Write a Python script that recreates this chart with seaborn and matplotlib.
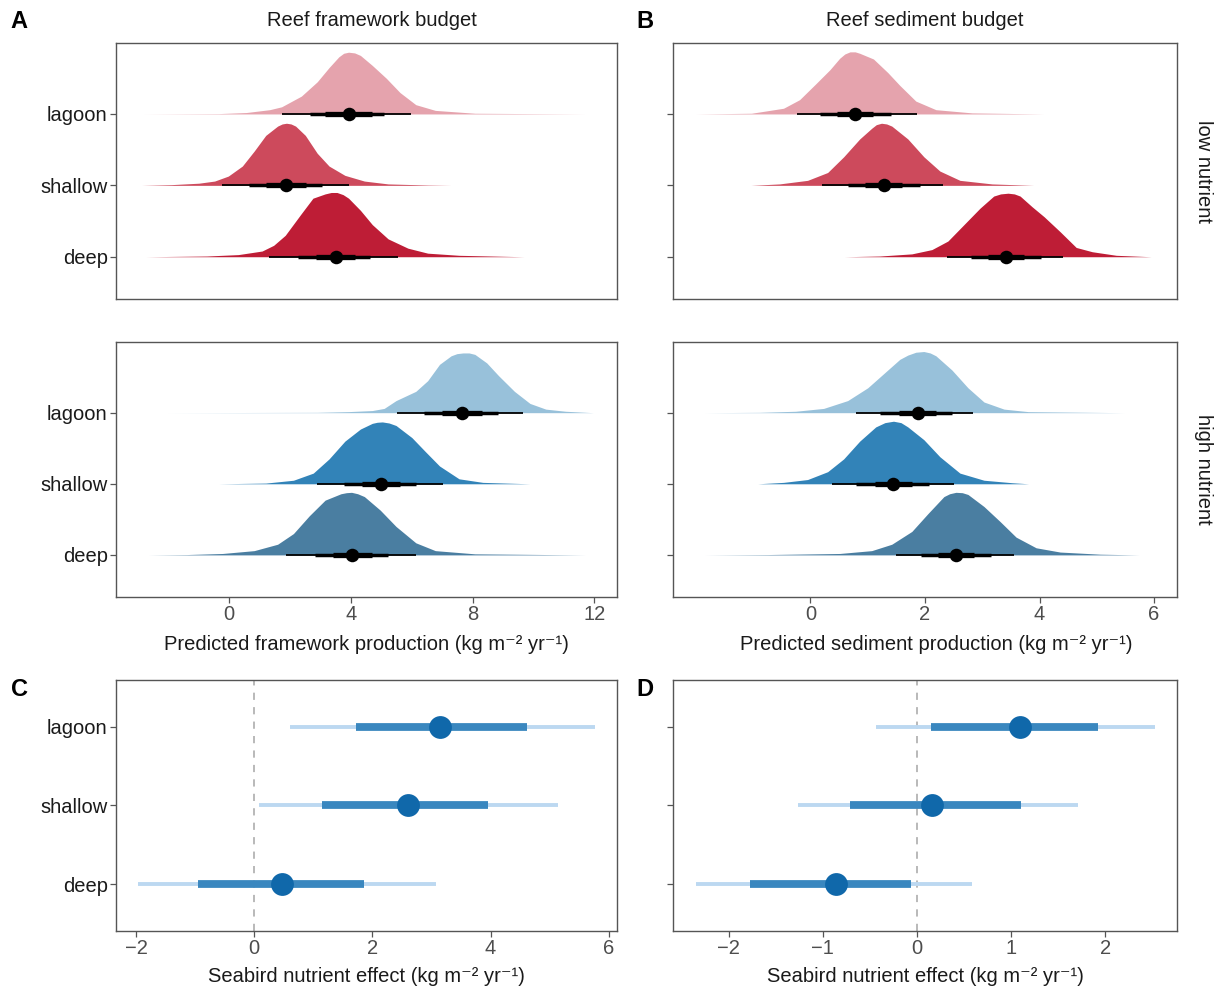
import matplotlib
matplotlib.use("Agg")
import matplotlib.pyplot as plt
import seaborn as sns
import pandas as pd

# ---------------- data ----------------
sites = ["deep", "shallow", "lagoon"]          # y positions 1, 2, 3

# density outlines (x in kg m-2 yr-1, h = height in row units)
fw_low_lagoon_x = [-2.84, -0.35, 0.56, 1.33, 1.72, 2.37, 2.89, 3.28, 3.60, 3.76, 3.92, 4.12, 4.31, 4.70, 5.16, 5.61, 6.13, 6.77, 8.07, 11.70]
fw_low_lagoon_h = [0.0, 0.005, 0.02, 0.06, 0.10, 0.25, 0.45, 0.65, 0.80, 0.85, 0.865, 0.855, 0.82, 0.68, 0.50, 0.30, 0.13, 0.05, 0.01, 0.0]
fw_low_shallow_x = [-2.88, -1.90, -1.00, -0.48, -0.03, 0.43, 0.82, 1.20, 1.59, 1.74, 1.88, 2.03, 2.18, 2.50, 2.89, 3.28, 3.80, 4.44, 5.22, 6.52, 7.29]
fw_low_shallow_h = [0.0, 0.01, 0.03, 0.06, 0.13, 0.27, 0.48, 0.70, 0.83, 0.86, 0.87, 0.86, 0.83, 0.70, 0.45, 0.27, 0.14, 0.06, 0.02, 0.005, 0.0]
fw_low_deep_x = [-2.75, -0.74, 0.30, 1.08, 1.46, 1.84, 2.36, 2.75, 3.15, 3.35, 3.54, 3.74, 3.92, 4.31, 4.70, 5.22, 5.87, 6.52, 7.55, 9.69]
fw_low_deep_h = [0.0, 0.01, 0.03, 0.08, 0.16, 0.30, 0.60, 0.82, 0.88, 0.90, 0.90, 0.87, 0.82, 0.65, 0.45, 0.25, 0.12, 0.05, 0.02, 0.0]

fw_high_lagoon_x = [-2.03, 2.89, 3.92, 4.70, 5.09, 5.48, 6.13, 6.52, 6.91, 7.29, 7.48, 7.68, 7.88, 8.07, 8.46, 8.85, 9.37, 9.88, 10.40, 11.05, 11.96]
fw_high_lagoon_h = [0.0, 0.005, 0.015, 0.03, 0.06, 0.17, 0.30, 0.45, 0.68, 0.80, 0.83, 0.84, 0.84, 0.82, 0.70, 0.52, 0.30, 0.13, 0.05, 0.02, 0.0]
fw_high_shallow_x = [-0.35, 1.20, 2.11, 2.76, 3.28, 3.80, 4.31, 4.70, 4.86, 5.03, 5.25, 5.48, 6.00, 6.45, 6.91, 7.55, 8.33, 9.88]
fw_high_shallow_h = [0.0, 0.01, 0.05, 0.15, 0.35, 0.60, 0.77, 0.85, 0.865, 0.87, 0.855, 0.82, 0.65, 0.45, 0.25, 0.07, 0.02, 0.0]
fw_high_deep_x = [-2.66, -1.39, -0.22, 0.82, 1.59, 2.11, 2.63, 3.15, 3.67, 3.85, 4.02, 4.22, 4.44, 4.96, 5.48, 6.13, 6.77, 8.07, 11.70]
fw_high_deep_h = [0.0, 0.005, 0.02, 0.06, 0.15, 0.30, 0.55, 0.77, 0.86, 0.875, 0.88, 0.86, 0.82, 0.63, 0.40, 0.17, 0.06, 0.015, 0.0]

sd_low_lagoon_x = [-2.01, -1.03, -0.47, -0.19, 0.09, 0.34, 0.51, 0.60, 0.69, 0.78, 0.86, 1.10, 1.35, 1.56, 1.84, 2.19, 2.82, 4.08]
sd_low_lagoon_h = [0.0, 0.01, 0.08, 0.20, 0.42, 0.62, 0.78, 0.84, 0.87, 0.87, 0.85, 0.77, 0.58, 0.40, 0.18, 0.06, 0.015, 0.0]
sd_low_shallow_x = [-1.04, -0.54, -0.05, 0.30, 0.58, 0.86, 1.07, 1.15, 1.24, 1.33, 1.42, 1.70, 1.98, 2.26, 2.61, 3.17, 3.90]
sd_low_shallow_h = [0.0, 0.02, 0.07, 0.18, 0.40, 0.65, 0.80, 0.85, 0.87, 0.86, 0.83, 0.65, 0.40, 0.20, 0.07, 0.02, 0.0]
sd_low_deep_x = [0.59, 1.21, 1.77, 2.12, 2.40, 2.68, 2.96, 3.20, 3.32, 3.45, 3.56, 3.66, 3.87, 4.08, 4.36, 4.64, 4.92, 5.34, 5.95]
sd_low_deep_h = [0.0, 0.01, 0.04, 0.10, 0.22, 0.45, 0.68, 0.85, 0.88, 0.89, 0.88, 0.85, 0.70, 0.56, 0.35, 0.13, 0.07, 0.02, 0.0]

sd_high_lagoon_x = [-1.85, -0.89, -0.26, 0.23, 0.65, 1.00, 1.28, 1.56, 1.70, 1.84, 1.98, 2.09, 2.19, 2.47, 2.75, 3.03, 3.38, 3.80, 5.48]
sd_high_lagoon_h = [0.0, 0.005, 0.02, 0.06, 0.17, 0.35, 0.55, 0.75, 0.81, 0.85, 0.86, 0.84, 0.80, 0.60, 0.35, 0.15, 0.05, 0.015, 0.0]
sd_high_shallow_x = [-0.92, -0.47, -0.05, 0.30, 0.58, 0.86, 1.14, 1.30, 1.45, 1.58, 1.70, 1.98, 2.26, 2.61, 3.03, 3.52, 3.81]
sd_high_shallow_h = [0.0, 0.02, 0.06, 0.17, 0.35, 0.60, 0.80, 0.86, 0.88, 0.86, 0.80, 0.62, 0.38, 0.15, 0.05, 0.015, 0.0]
sd_high_deep_x = [-1.85, -0.75, 0.51, 1.07, 1.42, 1.77, 2.05, 2.33, 2.43, 2.54, 2.65, 2.75, 3.03, 3.31, 3.59, 3.94, 4.36, 5.06, 5.74]
sd_high_deep_h = [0.0, 0.005, 0.02, 0.06, 0.15, 0.33, 0.58, 0.82, 0.86, 0.88, 0.875, 0.85, 0.68, 0.47, 0.25, 0.10, 0.04, 0.01, 0.0]

# medians and intervals (order: deep, shallow, lagoon)
fw_low_median = [3.50, 1.88, 3.92]
fw_low_lo95 = [1.31, -0.25, 1.75]; fw_low_hi95 = [5.54, 3.92, 5.97]
fw_low_lo80 = [2.27, 0.66, 2.67];  fw_low_hi80 = [4.64, 3.04, 5.09]
fw_low_lo50 = [2.85, 1.22, 3.15];  fw_low_hi50 = [4.12, 2.52, 4.70]

fw_high_median = [4.03, 4.99, 7.64]
fw_high_lo95 = [1.88, 2.89, 5.52]; fw_high_hi95 = [6.13, 7.03, 9.66]
fw_high_lo80 = [2.82, 3.77, 6.41]; fw_high_hi80 = [5.22, 6.15, 8.82]
fw_high_lo50 = [3.40, 4.35, 7.00]; fw_high_hi50 = [4.68, 5.62, 8.30]

sd_low_median = [3.41, 1.28, 0.78]
sd_low_lo95 = [2.38, 0.21, -0.24]; sd_low_hi95 = [4.41, 2.31, 1.86]
sd_low_lo80 = [2.80, 0.66, 0.16];  sd_low_hi80 = [4.02, 1.91, 1.41]
sd_low_lo50 = [3.10, 0.96, 0.46];  sd_low_hi50 = [3.72, 1.60, 1.10]

sd_high_median = [2.54, 1.44, 1.87]
sd_high_lo95 = [1.49, 0.37, 0.79]; sd_high_hi95 = [3.55, 2.50, 2.84]
sd_high_lo80 = [1.93, 0.79, 1.22]; sd_high_hi80 = [3.15, 2.07, 2.47]
sd_high_lo50 = [2.22, 1.12, 1.55]; sd_high_hi50 = [2.86, 1.77, 2.20]

# seabird nutrient effect (order: deep, shallow, lagoon)
fw_eff_median = [0.47, 2.60, 3.15]
fw_eff_lo95 = [-1.96, 0.08, 0.61]; fw_eff_hi95 = [3.07, 5.14, 5.77]
fw_eff_lo_in = [-0.96, 1.15, 1.72]; fw_eff_hi_in = [1.86, 3.95, 4.61]

sd_eff_median = [-0.86, 0.16, 1.09]
sd_eff_lo95 = [-2.35, -1.26, -0.43]; sd_eff_hi95 = [0.58, 1.71, 2.53]
sd_eff_lo_in = [-1.77, -0.71, 0.15]; sd_eff_hi_in = [-0.06, 1.10, 1.92]

# ---------------- style ----------------
sns.set_theme(style="white")
plt.rcParams["font.family"] = ["Liberation Sans", "DejaVu Sans"]
FS = 14.5
BORDER = "#555555"
red_cols = {"lagoon": "#e5a3ad", "shallow": "#cd4a5c", "deep": "#be1d36"}
blue_cols = {"lagoon": "#98c1da", "shallow": "#3283b8", "deep": "#4a7ea1"}
ci_light, ci_dark, ci_point = "#bcd8f1", "#3a87bf", "#1068aa"

W, H = 1227, 992
fig = plt.figure(figsize=(W / 100, H / 100), dpi=100)


def rect(l, r, t, b):
    return [l / W, 1 - b / H, (r - l) / W, (b - t) / H]


axA1 = fig.add_axes(rect(116, 617, 43, 299))
axB1 = fig.add_axes(rect(673, 1177, 43, 299))
axA2 = fig.add_axes(rect(116, 617, 342, 597))
axB2 = fig.add_axes(rect(673, 1177, 342, 597))
axC = fig.add_axes(rect(116, 617, 680, 931))
axD = fig.add_axes(rect(673, 1177, 680, 931))


def style_ax(ax, xlim, xticks, ylim, show_ylab, show_xlab=True):
    ax.set_xlim(*xlim)
    ax.set_ylim(*ylim)
    ax.set_xticks(xticks)
    ax.set_yticks([1, 2, 3])
    ax.set_yticklabels(sites if show_ylab else [])
    for s in ax.spines.values():
        s.set_color(BORDER)
        s.set_linewidth(1.0)
        s.set_visible(True)
    ax.tick_params(axis="y", which="both", left=True, length=4, width=0.9, color=BORDER,
                   labelsize=FS, labelcolor="#1a1a1a", pad=2)
    if show_xlab:
        ax.tick_params(axis="x", bottom=True, length=4, width=0.9, color=BORDER,
                       labelsize=FS, labelcolor="#4d4d4d", pad=2)
    else:
        ax.tick_params(axis="x", bottom=False, labelbottom=False)
    ax.set_xlabel("")
    ax.set_ylabel("")
    ax.grid(False)
    ax.set_facecolor("white")


def ridges(ax, dens, cols, med, lo95, hi95, lo80, hi80, lo50, hi50):
    for i, site in enumerate(sites):
        base = i + 1
        xs, hs = dens[site]
        ax.fill_between(xs, [base] * len(xs), [base + h for h in hs],
                        color=cols[site], lw=0, zorder=1)
    ypos = [1, 2, 3]
    ax.hlines(ypos, lo95, hi95, color="black", lw=1.3, zorder=3)
    ax.hlines(ypos, lo80, hi80, color="black", lw=2.5, zorder=3)
    ax.hlines(ypos, lo50, hi50, color="black", lw=3.8, zorder=3)
    df = pd.DataFrame({"median": med, "y": ypos})
    sns.scatterplot(data=df, x="median", y="y", color="black", s=95, linewidth=0,
                    ax=ax, zorder=4, legend=False)


def effects(ax, med, lo95, hi95, lo_in, hi_in):
    ypos = [1, 2, 3]
    ax.axvline(0, color="#b3b3b3", lw=1.3, ls=(0, (4, 4)), zorder=1)
    ax.hlines(ypos, lo95, hi95, color=ci_light, lw=2.8, zorder=2)
    ax.hlines(ypos, lo_in, hi_in, color=ci_dark, lw=5.6, zorder=3)
    df = pd.DataFrame({"median": med, "y": ypos})
    sns.scatterplot(data=df, x="median", y="y", color=ci_point, s=270, linewidth=0,
                    ax=ax, zorder=4, legend=False)


ridge_ylim = (0.408, 3.994)

ridges(axA1, {"lagoon": (fw_low_lagoon_x, fw_low_lagoon_h),
              "shallow": (fw_low_shallow_x, fw_low_shallow_h),
              "deep": (fw_low_deep_x, fw_low_deep_h)}, red_cols,
       fw_low_median, fw_low_lo95, fw_low_hi95, fw_low_lo80, fw_low_hi80, fw_low_lo50, fw_low_hi50)
ridges(axA2, {"lagoon": (fw_high_lagoon_x, fw_high_lagoon_h),
              "shallow": (fw_high_shallow_x, fw_high_shallow_h),
              "deep": (fw_high_deep_x, fw_high_deep_h)}, blue_cols,
       fw_high_median, fw_high_lo95, fw_high_hi95, fw_high_lo80, fw_high_hi80, fw_high_lo50, fw_high_hi50)
ridges(axB1, {"lagoon": (sd_low_lagoon_x, sd_low_lagoon_h),
              "shallow": (sd_low_shallow_x, sd_low_shallow_h),
              "deep": (sd_low_deep_x, sd_low_deep_h)}, red_cols,
       sd_low_median, sd_low_lo95, sd_low_hi95, sd_low_lo80, sd_low_hi80, sd_low_lo50, sd_low_hi50)
ridges(axB2, {"lagoon": (sd_high_lagoon_x, sd_high_lagoon_h),
              "shallow": (sd_high_shallow_x, sd_high_shallow_h),
              "deep": (sd_high_deep_x, sd_high_deep_h)}, blue_cols,
       sd_high_median, sd_high_lo95, sd_high_hi95, sd_high_lo80, sd_high_hi80, sd_high_lo50, sd_high_hi50)

effects(axC, fw_eff_median, fw_eff_lo95, fw_eff_hi95, fw_eff_lo_in, fw_eff_hi_in)
effects(axD, sd_eff_median, sd_eff_lo95, sd_eff_hi95, sd_eff_lo_in, sd_eff_hi_in)

style_ax(axA1, (-3.72, 12.74), [0, 4, 8, 12], ridge_ylim, True, show_xlab=False)
style_ax(axA2, (-3.72, 12.74), [0, 4, 8, 12], ridge_ylim, True)
style_ax(axB1, (-2.40, 6.40), [0, 2, 4, 6], ridge_ylim, False, show_xlab=False)
style_ax(axB2, (-2.40, 6.40), [0, 2, 4, 6], ridge_ylim, False)
style_ax(axC, (-2.34, 6.14), [-2, 0, 2, 4, 6], (0.407, 3.593), True)
style_ax(axD, (-2.59, 2.76), [-2, -1, 0, 1, 2], (0.407, 3.593), False)

# ---------------- text ----------------
def ftext(x, y, s, **kw):
    fig.text(x / W, 1 - y / H, s, **kw)

unit = "(kg m\u207b\u00b2 yr\u207b\u00b9)"
ftext(372, 21, "Reef framework budget", ha="center", va="center", fontsize=FS, color="#1a1a1a")
ftext(925, 21, "Reef sediment budget", ha="center", va="center", fontsize=FS, color="#1a1a1a")
ftext(1204, 171, "low nutrient", ha="center", va="center", rotation=-90, fontsize=FS, color="#1a1a1a")
ftext(1204, 469.5, "high nutrient", ha="center", va="center", rotation=-90, fontsize=FS, color="#1a1a1a")

ftext(366.5, 644, "Predicted framework production " + unit, ha="center", va="center",
      fontsize=FS, color="#1a1a1a")
ftext(936, 644, "Predicted sediment production " + unit, ha="center", va="center",
      fontsize=FS, color="#1a1a1a")
ftext(366.5, 976, "Seabird nutrient effect " + unit, ha="center", va="center",
      fontsize=FS, color="#1a1a1a")
ftext(925, 976, "Seabird nutrient effect " + unit, ha="center", va="center",
      fontsize=FS, color="#1a1a1a")

for letter, (x, y) in {"A": (19, 21), "B": (645, 21), "C": (19, 689), "D": (645, 689)}.items():
    ftext(x, y, letter, ha="center", va="center", fontsize=17, fontweight="bold", color="black")

fig.savefig("out.png", dpi=100, facecolor="white")
